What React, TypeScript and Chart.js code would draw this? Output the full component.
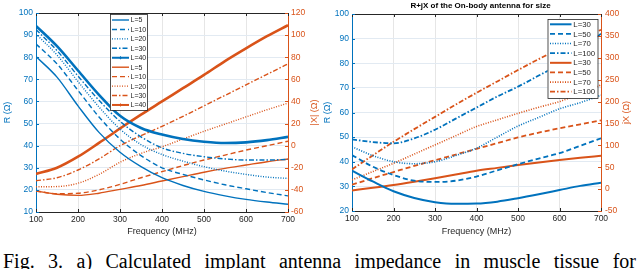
import React, { useEffect, useRef } from 'react';
import { Chart, registerables } from 'chart.js';

Chart.register(...registerables);

// ---------- data ----------
const FREQ_MHZ = [100, 150, 200, 250, 300, 350, 400, 450, 500, 550, 600, 650, 700];
const FREQ_TICKS = [100, 200, 300, 400, 500, 600, 700];

// (a) implant antenna
const LABELS_A = ['L=5', 'L=10', 'L=20', 'L=30', 'L=40'];
const R_A_L5 = [80.3, 71, 58, 46, 37, 30.5, 25.5, 22, 19.3, 17.3, 15.7, 14.5, 13.5];
const R_A_L10 = [86, 77, 65, 53, 43, 35.5, 30, 27, 24.5, 22.3, 20.5, 18.8, 17.3];
const R_A_L20 = [90.5, 81, 69, 57.5, 47.5, 40.5, 36, 33, 30.5, 28.5, 27, 25.8, 25.2];
const R_A_L30 = [92.5, 83, 71.5, 60.5, 51, 44, 39, 36.5, 35, 34, 33.5, 33.5, 33.8];
const R_A_L40 = [94.2, 85, 74, 63, 53.5, 48, 45, 43, 41.8, 41.2, 41.5, 42.5, 44];
const X_A_L5 = [-41, -44, -45, -43, -39.5, -36, -32, -28, -24, -20.5, -17.5, -14.5, -12];
const X_A_L10 = [-41, -43.5, -43, -40, -35, -29, -23.5, -18, -13, -8.5, -4, 0, 4];
const X_A_L20 = [-37.2, -37, -34, -26, -15, -7, -1, 6, 13, 19.5, 26, 32.5, 38.5];
const X_A_L30 = [-31.7, -29, -22, -12, 0, 9, 17.5, 26.5, 36, 45.5, 55, 64.5, 74];
const X_A_L40 = [-25.6, -20, -10, 2.5, 15.5, 28, 40, 52, 64, 76.5, 88, 99, 109];
const R_TICKS_A = [10, 20, 30, 40, 50, 60, 70, 80, 90, 100];
const X_TICKS_A = [-60, -40, -20, 0, 20, 40, 60, 80, 100, 120];

// (b) on-body antenna
const LABELS_B = ['L=30', 'L=50', 'L=70', 'L=100'];
const R_B_L30 = [36.4, 32, 28, 25.3, 23.6, 22.9, 23, 23.8, 25.2, 26.8, 28.5, 30.2, 31.5];
const R_B_L50 = [42.7, 38, 34.6, 32.3, 31.8, 32.3, 34, 36.5, 39, 41.3, 43.5, 46.5, 49.5];
const R_B_L70 = [46.1, 42.5, 40, 39.2, 40, 42.5, 45.5, 50, 54.5, 58, 61.5, 64, 67];
const R_B_L100 = [49.1, 48, 47.5, 49.5, 53, 57.5, 62, 66.5, 70.5, 75, 79.5, 85, 92];
const X_B_L30 = [-3, 3, 9.5, 17, 25, 33.5, 42, 48.5, 55, 61, 66.5, 71.5, 76];
const X_B_L50 = [10, 25, 39, 53, 66, 79, 92, 105, 118, 129, 139, 148, 157];
const X_B_L70 = [21, 40, 59, 80, 101, 122, 143, 158, 173, 187, 200, 218, 238];
const X_B_L100 = [45, 77, 108, 137, 165, 193, 220, 246, 272, 297, 321, 343, 364];
const R_TICKS_B = [20, 30, 40, 50, 60, 70, 80, 90, 100];
const X_TICKS_B = [-50, 0, 50, 100, 150, 200, 250, 300, 350, 400];

const TITLE_B = 'R+jX of the On-body antenna for size';
const CAPTION = 'Fig. 3.  a) Calculated implant antenna impedance in muscle tissue for';

// ---------- styles ----------
const BLUE = '#0072BD';
const ORANGE = '#D95319';
const DARK = '#262626';
const GRID_V = '#e6e6e6';
const GRID_H = '#e2eaf2';
const FONT = '"Liberation Sans", Arial, Helvetica, sans-serif';
const DASH: Record<string, number[]> = {
  solid: [],
  dashed: [5, 3],
  dotted: [1, 1.5],
  dashdot: [5, 2, 1.5, 2],
};

function pts(ys: number[]) {
  return FREQ_MHZ.map((f, i) => ({ x: f, y: ys[i] }));
}

function ds(label: string, ys: number[], color: string, dash: number[], width: number, axis: string, marker = false) {
  return {
    label,
    data: pts(ys),
    borderColor: color,
    backgroundColor: color,
    borderDash: dash,
    borderWidth: width,
    yAxisID: axis,
    pointRadius: 0,
    fill: false,
    cubicInterpolationMode: 'monotone',
    legendMarker: marker,
  } as any;
}

const decorPlugin = {
  id: 'decor',
  afterDraw(chart: any, _args: any, o: any) {
    const ctx = chart.ctx as CanvasRenderingContext2D;
    const { left, right, top, bottom } = chart.chartArea;
    ctx.save();
    ctx.setLineDash([]);
    // top box edge
    ctx.strokeStyle = DARK;
    ctx.lineWidth = 1;
    ctx.beginPath();
    ctx.moveTo(left, Math.round(top) + 0.5);
    ctx.lineTo(right, Math.round(top) + 0.5);
    ctx.stroke();
    // inward ticks
    const xs = chart.scales.x;
    ctx.beginPath();
    xs.ticks.forEach((t: any) => {
      const px = Math.round(xs.getPixelForValue(t.value)) + 0.5;
      ctx.moveTo(px, bottom);
      ctx.lineTo(px, bottom - 3);
      ctx.moveTo(px, top);
      ctx.lineTo(px, top + 3);
    });
    ctx.stroke();
    const yl = chart.scales.yR;
    ctx.strokeStyle = BLUE;
    ctx.beginPath();
    yl.ticks.forEach((t: any) => {
      const py = Math.round(yl.getPixelForValue(t.value)) + 0.5;
      ctx.moveTo(left, py);
      ctx.lineTo(left + 3, py);
    });
    ctx.stroke();
    const yr = chart.scales.yX;
    ctx.strokeStyle = ORANGE;
    ctx.beginPath();
    yr.ticks.forEach((t: any) => {
      const py = Math.round(yr.getPixelForValue(t.value)) + 0.5;
      ctx.moveTo(right, py);
      ctx.lineTo(right - 3, py);
    });
    ctx.stroke();

    // right axis title (reads bottom-to-top)
    ctx.fillStyle = ORANGE;
    ctx.font = `9px ${FONT}`;
    ctx.textAlign = 'center';
    ctx.textBaseline = 'middle';
    ctx.translate(o.rightTitleX, (top + bottom) / 2);
    ctx.rotate(-Math.PI / 2);
    ctx.fillText(o.rightTitle, 0, 0);
    ctx.setTransform(1, 0, 0, 1, 0, 0);

    // chart title
    if (o.title) {
      ctx.fillStyle = '#000';
      ctx.font = `bold 8px ${FONT}`;
      ctx.textAlign = 'center';
      ctx.textBaseline = 'middle';
      ctx.fillText(o.title, (left + right) / 2 + o.titleShift, o.titleY);
    }

    // legend box
    const L = o.legend;
    ctx.fillStyle = '#fff';
    ctx.fillRect(L.x, L.y, L.w, L.h);
    ctx.strokeStyle = DARK;
    ctx.lineWidth = 0.8;
    ctx.strokeRect(L.x + 0.5, L.y + 0.5, L.w, L.h);
    ctx.font = `${L.font}px ${FONT}`;
    ctx.textAlign = 'left';
    ctx.textBaseline = 'middle';
    chart.data.datasets.forEach((d: any, i: number) => {
      const cy = L.firstY + i * L.rowH;
      ctx.strokeStyle = d.borderColor;
      ctx.lineWidth = Math.min(d.borderWidth, 2);
      ctx.setLineDash(d.borderDash);
      ctx.beginPath();
      ctx.moveTo(L.sx0, cy);
      ctx.lineTo(L.sx1, cy);
      ctx.stroke();
      ctx.setLineDash([]);
      if (d.legendMarker) {
        const mx = (L.sx0 + L.sx1) / 2;
        ctx.lineWidth = 1;
        ctx.beginPath();
        ctx.moveTo(mx - 1.5, cy);
        ctx.lineTo(mx + 1.5, cy);
        ctx.moveTo(mx, cy - 1.5);
        ctx.lineTo(mx, cy + 1.5);
        ctx.stroke();
      }
      ctx.fillStyle = DARK;
      ctx.fillText(d.label, L.tx, cy + 0.5);
    });
    ctx.restore();
  },
};

function buildConfig(p: any): any {
  const tickFont = { family: FONT, size: 8.5 };
  const titleFont = { family: FONT, size: 9 };
  return {
    type: 'line',
    data: { datasets: p.datasets },
    plugins: [decorPlugin],
    options: {
      animation: false,
      responsive: false,
      devicePixelRatio: 1,
      layout: { padding: { top: p.top, left: 0, right: 0, bottom: 0 } },
      plugins: {
        legend: { display: false },
        tooltip: { enabled: false },
        decor: p.decor,
      },
      scales: {
        x: {
          type: 'linear',
          min: 100,
          max: 700,
          afterBuildTicks: (s: any) => {
            s.ticks = FREQ_TICKS.map((v) => ({ value: v }));
          },
          ticks: { color: DARK, font: tickFont, padding: 3, maxRotation: 0, autoSkip: false },
          grid: { color: GRID_V, drawTicks: false, lineWidth: 1 },
          border: { color: DARK, width: 1 },
          title: { display: true, text: 'Frequency (MHz)', color: DARK, font: titleFont, padding: { top: 0, bottom: 3 } },
          afterFit: (s: any) => {
            s.height = p.xH;
          },
        },
        yR: {
          type: 'linear',
          position: 'left',
          min: p.rTicks[0],
          max: p.rTicks[p.rTicks.length - 1],
          afterBuildTicks: (s: any) => {
            s.ticks = p.rTicks.map((v: number) => ({ value: v }));
          },
          ticks: { color: BLUE, font: tickFont, padding: 3, autoSkip: false },
          grid: { color: GRID_H, drawTicks: false, lineWidth: 1 },
          border: { color: BLUE, width: 1 },
          title: { display: true, text: 'R (Ω)', color: BLUE, font: titleFont, padding: { top: 2, bottom: 0 } },
          afterFit: (s: any) => {
            s.width = p.leftW;
          },
        },
        yX: {
          type: 'linear',
          position: 'right',
          min: p.xTicks[0],
          max: p.xTicks[p.xTicks.length - 1],
          afterBuildTicks: (s: any) => {
            s.ticks = p.xTicks.map((v: number) => ({ value: v }));
          },
          ticks: { color: ORANGE, font: tickFont, padding: p.rightPad, autoSkip: false },
          grid: { drawOnChartArea: false, drawTicks: false },
          border: { color: ORANGE, width: 1 },
          title: { display: false },
          afterFit: (s: any) => {
            s.width = p.rightW;
          },
        },
      },
    },
  };
}

function buildLeft() {
  const w = 1.4;
  const datasets = [
    ds(LABELS_A[0], R_A_L5, BLUE, DASH.solid, w, 'yR'),
    ds(LABELS_A[1], R_A_L10, BLUE, DASH.dashed, w, 'yR'),
    ds(LABELS_A[2], R_A_L20, BLUE, DASH.dotted, w, 'yR'),
    ds(LABELS_A[3], R_A_L30, BLUE, DASH.dashdot, w, 'yR'),
    ds(LABELS_A[4], R_A_L40, BLUE, DASH.solid, 2.6, 'yR', true),
    ds(LABELS_A[0], X_A_L5, ORANGE, DASH.solid, w, 'yX'),
    ds(LABELS_A[1], X_A_L10, ORANGE, DASH.dashed, w, 'yX'),
    ds(LABELS_A[2], X_A_L20, ORANGE, DASH.dotted, w, 'yX'),
    ds(LABELS_A[3], X_A_L30, ORANGE, DASH.dashdot, w, 'yX'),
    ds(LABELS_A[4], X_A_L40, ORANGE, DASH.solid, 2.6, 'yX', true),
  ];
  return buildConfig({
    datasets,
    rTicks: R_TICKS_A,
    xTicks: X_TICKS_A,
    leftW: 36,
    rightW: 32,
    rightPad: 3,
    top: 13,
    xH: 28,
    decor: {
      rightTitle: '|X| (Ω)',
      rightTitleX: 315,
      legend: { x: 110, y: 14, w: 37, h: 96, firstY: 20, rowH: 9.44, sx0: 112, sx1: 129, tx: 130.5, font: 7 },
    },
  });
}

function buildRight() {
  const datasets = [
    ds(LABELS_B[0], R_B_L30, BLUE, DASH.solid, 2, 'yR'),
    ds(LABELS_B[1], R_B_L50, BLUE, DASH.dashed, 1.8, 'yR'),
    ds(LABELS_B[2], R_B_L70, BLUE, DASH.dotted, 1.6, 'yR'),
    ds(LABELS_B[3], R_B_L100, BLUE, DASH.dashdot, 1.8, 'yR'),
    ds(LABELS_B[0], X_B_L30, ORANGE, DASH.solid, 2, 'yX'),
    ds(LABELS_B[1], X_B_L50, ORANGE, DASH.dashed, 1.8, 'yX'),
    ds(LABELS_B[2], X_B_L70, ORANGE, DASH.dotted, 1.6, 'yX'),
    ds(LABELS_B[3], X_B_L100, ORANGE, DASH.dashdot, 1.8, 'yX'),
  ];
  return buildConfig({
    datasets,
    rTicks: R_TICKS_B,
    xTicks: X_TICKS_B,
    leftW: 32,
    rightW: 39,
    rightPad: 4,
    top: 14,
    xH: 29,
    decor: {
      rightTitle: 'jX (Ω)',
      rightTitleX: 307,
      title: TITLE_B,
      titleShift: 4,
      titleY: 6,
      legend: { x: 227.5, y: 19, w: 50, h: 79, firstY: 24.3, rowH: 9.63, sx0: 230, sx1: 251.5, tx: 253.3, font: 7.8 },
    },
  });
}

export default function App() {
  const leftRef = useRef<HTMLCanvasElement>(null);
  const rightRef = useRef<HTMLCanvasElement>(null);

  useEffect(() => {
    const c1 = new Chart(leftRef.current as HTMLCanvasElement, buildLeft());
    const c2 = new Chart(rightRef.current as HTMLCanvasElement, buildRight());
    return () => {
      c1.destroy();
      c2.destroy();
    };
  }, []);

  return (
    <div style={{ position: 'absolute', left: 0, top: 0, width: 640, height: 269, overflow: 'hidden', background: '#fff' }}>
      <canvas
        ref={leftRef}
        width={320}
        height={240}
        style={{ position: 'absolute', left: 0, top: 0, width: 320, height: 240 }}
      />
      <canvas
        ref={rightRef}
        width={320}
        height={240}
        style={{ position: 'absolute', left: 320, top: 0, width: 320, height: 240 }}
      />
      <div
        style={{
          position: 'absolute',
          left: 3,
          top: 251,
          width: 633,
          fontFamily: '"Liberation Serif", "Times New Roman", serif',
          fontSize: 20,
          lineHeight: '20px',
          color: '#000',
          textAlign: 'justify',
          textAlignLast: 'justify',
        }}
      >
        {CAPTION}
      </div>
    </div>
  );
}
